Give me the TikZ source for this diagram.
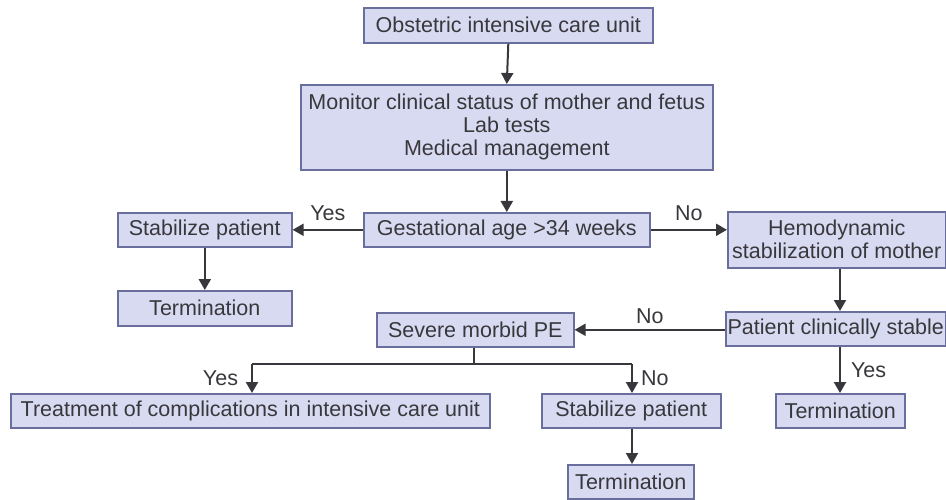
\documentclass[tikz,border=0pt]{standalone}
\usepackage{fontspec}
\setmainfont{Liberation Sans}
\usetikzlibrary{arrows.meta}
\definecolor{boxfill}{HTML}{D8DAF2}
\definecolor{boxline}{HTML}{6A6E9C}
\definecolor{ink}{HTML}{38383C}
\begin{document}
\begin{tikzpicture}[x=1pt,y=-1pt,
  box/.style={draw=boxline, fill=boxfill, line width=1.6pt, inner sep=0pt,
    text=ink, font=\fontsize{21.5}{23}\selectfont, align=center, anchor=north west},
  link/.style={draw=ink, line width=2pt},
  flow/.style={link, -{Triangle[length=11pt,width=12pt]}},
  lbl/.style={text=ink, font=\fontsize{21.5}{23}\selectfont, inner sep=0pt}]
\useasboundingbox (0,0) rectangle (946,500);
\fill[white] (0,0) rectangle (946,500);
\clip (0,0) rectangle (946,500);

% boxes placed by their upper-left corner, sized in points
\node[box, minimum width=289pt, minimum height=35pt] (icu) at (363,7) {Obstetric intensive care unit};
\node[box, minimum width=412pt, minimum height=85pt] (mon) at (300,84)
  {Monitor clinical status of mother and fetus\\Lab tests\\Medical management};
\node[box, minimum width=286pt, minimum height=34pt] (ga) at (363,212) {Gestational age >34 weeks};
\node[box, minimum width=174pt, minimum height=34pt] (stabA) at (117,212) {Stabilize patient};
\node[box, minimum width=174pt, minimum height=35pt] (termA) at (117,290) {Termination};
\node[box, minimum width=218pt, minimum height=56pt] (hemo) at (727,211)
  {Hemodynamic\\stabilization of mother};
\node[box, minimum width=220pt, minimum height=34pt] (stable) at (725,311) {Patient clinically stable};
\node[box, minimum width=197pt, minimum height=34pt] (pe) at (376,312) {Severe morbid PE};
\node[box, minimum width=479pt, minimum height=34pt] (treat) at (10,393)
  {Treatment of complications in intensive care unit};
\node[box, minimum width=179pt, minimum height=34pt] (stabB) at (541,393) {Stabilize patient};
\node[box, minimum width=126pt, minimum height=34pt] (termC) at (567,464) {Termination};
\node[box, minimum width=129pt, minimum height=34pt] (termB) at (775,393) {Termination};

% junction of the branch below the PE decision
\coordinate (split) at (474,364);
\coordinate (splitL) at (252,364);
\coordinate (splitR) at (632,364);

% connectors
\draw[flow] (icu.south) -- (mon.north);
\draw[flow] (mon.south) -- (ga.north);
\draw[flow] (ga.west) -- (stabA.east) node[lbl, midway, above=8pt] {Yes};
\draw[flow] (stabA.south) -- (termA.north);
\draw[flow] (ga.east) -- (hemo.west |- ga.east) node[lbl, midway, above=8pt] {No};
\draw[flow] (hemo.south -| 840,0) -- (stable.north -| 840,0);
\draw[flow] (stable.west |- pe.east) -- (pe.east) node[lbl, midway, above=5pt] {No};
\draw[flow] (stable.south -| 840,0) -- (termB.north -| 840,0)
  node[lbl, midway, right=10pt] {Yes};
\draw[link] (pe.south -| split) -- (split);
\draw[link] (splitL) -- (splitR);
\draw[flow] (splitL) -- (treat.north -| splitL) node[lbl, midway, left=13pt] {Yes};
\draw[flow] (splitR) -- (stabB.north -| splitR) node[lbl, midway, right=8pt] {No};
\draw[flow] (stabB.south -| splitR) -- (termC.north -| splitR);
\end{tikzpicture}
\end{document}
